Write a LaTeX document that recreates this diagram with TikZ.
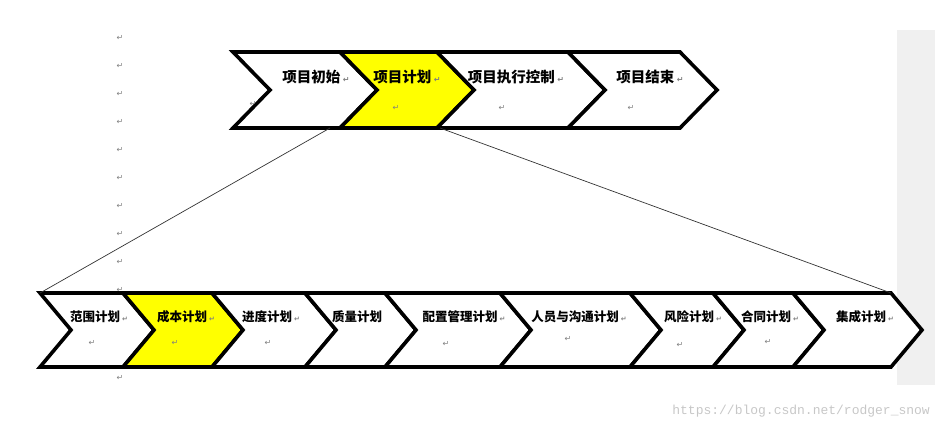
\documentclass[tikz,border=0pt]{standalone}
\usepackage{fontspec}
\setmainfont{Noto Sans CJK SC}
\newfontfamily\dv{DejaVu Sans}
\newfontfamily\mono{Liberation Mono}
\definecolor{yel}{RGB}{255,255,0}
\definecolor{panel}{RGB}{240,240,240}
\newcommand{\chev}[6]{% L R top bot depth fill
  \draw[chevline,fill=#6] (#1,#3) -- (#2,#3) -- ({#2+#5},{(#3+#4)/2}) -- (#2,#4) -- (#1,#4) -- ({#1+#5},{(#3+#4)/2}) -- cycle;}
\tikzset{
  chevline/.style={line width=3.6pt,line join=miter},
  toplab/.style={font=\bfseries\fontsize{14.5}{16}\selectfont,inner sep=0pt,anchor=center},
  botlab/.style={font=\bfseries\fontsize{12.5}{14}\selectfont,inner sep=0pt,anchor=center},
  ret/.style={font=\dv\fontsize{8}{9}\selectfont,text=gray,inner sep=0pt},
  conn/.style={line width=0.7pt,draw=black!80}
}
\begin{document}
\begin{tikzpicture}[x=1pt,y=-1pt]
\useasboundingbox (0,0) rectangle (940,432);
\fill[panel] (897,30) rectangle (935,385);
% left column of return marks
\foreach \yy [count=\i] in {38,66,94,122,150,178,206,234,262,290,378}
  \node[ret] (lc\i) at (120,\yy) {↵};
% top row
\chev{233}{340}{52}{128}{37}{white}
\chev{340}{437}{52}{128}{37}{yel}
\chev{437}{568}{52}{128}{37}{white}
\chev{568}{680}{52}{128}{37}{white}
\node[toplab] (t1) at (316,77) {项目初始\,{\dv\fontsize{8}{9}\selectfont\color{gray}↵}};
\node[toplab] (t2) at (407,77) {项目计划\,{\dv\fontsize{8}{9}\selectfont\color{gray}↵}};
\node[toplab] (t3) at (516,77) {项目执行控制\,{\dv\fontsize{8}{9}\selectfont\color{gray}↵}};
\node[toplab] (t4) at (650,77) {项目结束\,{\dv\fontsize{8}{9}\selectfont\color{gray}↵}};
\node[ret] (r0) at (253,104) {↵};
\node[ret] (r1) at (396,108) {↵};
\node[ret] (r2) at (502,108) {↵};
\node[ret] (r3) at (631,108) {↵};
% bottom row
\chev{40}{123}{293}{367}{31}{white}
\chev{123}{212}{293}{367}{31}{yel}
\chev{212}{305}{293}{367}{31}{white}
\chev{305}{385}{293}{367}{31}{white}
\chev{385}{500}{293}{367}{31}{white}
\chev{500}{630}{293}{367}{31}{white}
\chev{630}{713}{293}{367}{31}{white}
\chev{713}{793}{293}{367}{31}{white}
\chev{793}{891}{293}{367}{31}{white}
\newcommand{\rr}{\,{\dv\fontsize{7}{8}\selectfont\color{gray}↵}}
\node[botlab] (b1) at (99,317) {范围计划\rr};
\node[botlab] (b2) at (186,317) {成本计划\rr};
\node[botlab] (b3) at (271,317) {进度计划\rr};
\node[botlab] (b4) at (357,317) {质量计划};
\node[botlab] (b5) at (464,317) {配置管理计划\rr};
\node[botlab] (b6) at (579,317) {人员与沟通计划\rr};
\node[botlab] (b7) at (693,317) {风险计划\rr};
\node[botlab] (b8) at (770,317) {合同计划\rr};
\node[botlab] (b9) at (865,317) {集成计划\rr};
\foreach \xx/\yy [count=\i] in {92/343,175/343,268/343,446/344,568/339,680/345,768/342}
  \node[ret] (br\i) at (\xx,\yy) {↵};
% connectors
\coordinate (p1) at (330,128);
\coordinate (p2) at (440,128);
\coordinate (q1) at (40,293);
\coordinate (q2) at (891,293);
\draw[conn] (p1) -- (q1);
\draw[conn] (p2) -- (q2);
\node[font=\mono\fontsize{13}{14}\selectfont,text=black!22,anchor=east,inner sep=0pt] (wm) at (930,411) {https://blog.csdn.net/rodger\_snow};
\end{tikzpicture}
\end{document}
